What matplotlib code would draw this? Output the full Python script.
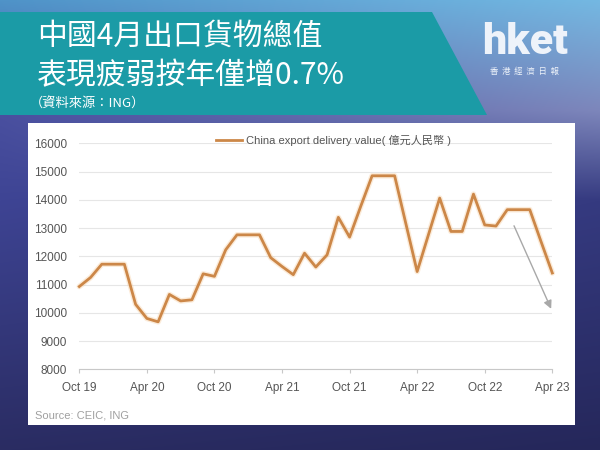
import numpy as np
import matplotlib
matplotlib.use("Agg")
import matplotlib.pyplot as plt
from matplotlib.patches import Polygon, Rectangle
from matplotlib.colors import to_rgb

# monthly values, Oct 2019 - Apr 2023 (億元人民幣)
values = [10930, 11250, 11720,
          11720, 11720, 10300, 9800, 9680, 10650, 10420, 10460, 11380, 11290, 12230, 12760,
          12760, 12760, 11950, 11640, 11350, 12110, 11620, 12050, 13380, 12680, 13780, 14850,
          14850, 14850, 13150, 11460, 12760, 14060, 12880, 12880, 14200, 13110, 13070, 13650,
          13650, 13650, 12520, 11410]
tick_pos = [0, 6, 12, 18, 24, 30, 36, 42]
tick_labels = ["Oct 19", "Apr 20", "Oct 20", "Apr 21", "Oct 21", "Apr 22", "Oct 22", "Apr 23"]
y_ticks = list(range(8000, 16001, 1000))

title1 = "中國4月出口貨物總值"
title2 = "表現疲弱按年僅增0.7%"
subtitle = "（資料來源：ING）"
legend_label = "China export delivery value( 億元人民幣 )"

cjk = ["Noto Sans CJK TC", "DejaVu Sans"]
latin = ["Liberation Sans", "Noto Sans CJK TC"]

fig = plt.figure(figsize=(6, 4.5), dpi=100)

# background gradient
bg = fig.add_axes([0, 0, 1, 1])
bg.set_axis_off()
H, W = 450, 600
stops_y = [0, 110, 200, 450]
top_cols = [to_rgb(c) for c in ["#74b8e2", "#7d86bb", "#353a80", "#25275a"]]
left_cols = [to_rgb(c) for c in ["#4f93c8", "#4a50a0", "#3e4494", "#2a2c62"]]
img = np.zeros((H, W, 3))
yy = np.arange(H)
for ch in range(3):
    right = np.interp(yy, stops_y, [c[ch] for c in top_cols])
    left = np.interp(yy, stops_y, [c[ch] for c in left_cols])
    t = np.linspace(0, 1, W)
    img[:, :, ch] = left[:, None] * (1 - t[None, :]) + right[:, None] * t[None, :]
bg.imshow(img, extent=[0, W, H, 0], aspect="auto")
bg.set_xlim(0, W)
bg.set_ylim(H, 0)

# teal banner and white panel
bg.add_patch(Polygon([(0, 12), (432, 12), (487, 115), (0, 115)], closed=True,
                     facecolor="#1b9ba6", edgecolor="none"))
bg.add_patch(Rectangle((28, 123), 547, 302, facecolor="white", edgecolor="none"))

fig.text(37, 450 - 36, title1, transform=None, fontsize=21.5, color="white",
         family=cjk, va="center", ha="left")
fig.text(37, 450 - 76, title2, transform=None, fontsize=21.5, color="white",
         family=cjk, va="center", ha="left")
fig.text(30, 450 - 104, subtitle, transform=None, fontsize=9.5, color="white",
         family=cjk, va="center", ha="left")

# hket logo
fig.text(525, 450 - 43, "hket", transform=None, fontsize=31, color="#eef3fa",
         family=["Roboto", "DejaVu Sans"], weight="heavy", va="center", ha="center")
fig.text(525, 450 - 71, "香  港  經  濟  日  報", transform=None, fontsize=6,
         color="#eef3fa", family=cjk, va="center", ha="center")

fig.text(35, 450 - 416, "Source: CEIC, ING", transform=None, fontsize=8,
         color="#a0a0a0", family=latin, va="center", ha="left")

# chart
ax = fig.add_axes([79.3 / 600, 1 - 369.3 / 450, (552.3 - 79.3) / 600, (369.3 - 143.3) / 450])
ax.set_facecolor("none")
x = np.arange(len(values))
ax.plot(x, values, color="#f6c894", lw=4, alpha=0.35, solid_joinstyle="round",
        solid_capstyle="round", clip_on=False)
line, = ax.plot(x, values, color="#cc8748", lw=2, solid_joinstyle="round",
                clip_on=False, label=legend_label)

ax.annotate("", xy=(42, 10050), xytext=(38.5, 13170),
            arrowprops=dict(arrowstyle="-|>", color="#a8a8a8", lw=1, mutation_scale=12))

ax.set_xlim(0, 42)
ax.set_ylim(8000, 16000)
ax.set_yticks(y_ticks)
ax.set_xticks(tick_pos)
ax.set_xticklabels(tick_labels)
ax.grid(axis="y", color="#e6e6e6", lw=0.8)
ax.set_axisbelow(True)
for s in ["top", "right", "left"]:
    ax.spines[s].set_visible(False)
ax.spines["bottom"].set_color("#c8c8c8")
ax.tick_params(axis="y", length=0, pad=9, labelsize=8.5, labelcolor="#555555")
ax.tick_params(axis="x", length=3, color="#c8c8c8", pad=6, labelsize=8.5, labelcolor="#555555")
for lab in ax.get_xticklabels() + ax.get_yticklabels():
    lab.set_family(latin)

leg = fig.legend(handles=[line], loc="center", bbox_to_anchor=(333 / 600, 1 - 140 / 450),
                 frameon=False, handlelength=2.4, handletextpad=0.3,
                 prop={"family": latin, "size": 8})
for t in leg.get_texts():
    t.set_color("#555555")

fig.savefig("out.png", dpi=100)
